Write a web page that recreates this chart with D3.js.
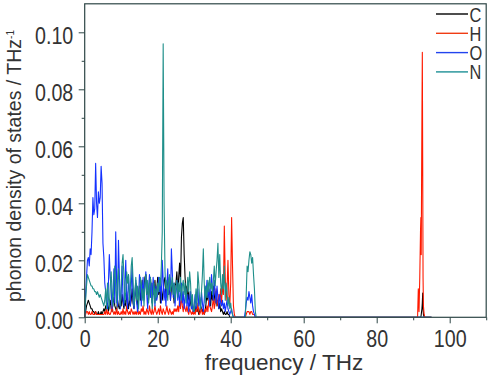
<!DOCTYPE html>
<html><head><meta charset="utf-8">
<script src="https://cdn.jsdelivr.net/npm/d3@7"></script>
<style>body{margin:0;background:#fff}svg{display:block}</style>
</head><body>
<svg id="chart" width="489" height="376"></svg>
<script>
// ---- data ----
const lowStart = 0, lowStep = 0.25; // frequency grid of the low block (THz)
const C_low = [
0.000,0.002,0.004,0.005,0.006,0.005,0.004,0.003,0.003,0.002,0.002,0.001,0.002,0.001,0.001,0.002,0.001,0.001,0.002,0.001,
0.002,0.003,0.002,0.004,0.003,0.005,0.002,0.004,0.006,0.003,0.002,0.005,0.007,0.004,0.003,0.002,0.006,0.004,0.003,0.005,
0.004,0.008,0.005,0.003,0.006,0.004,0.009,0.005,0.003,0.007,0.004,0.006,0.010,0.005,0.003,0.007,0.012,0.006,0.004,0.008,
0.011,0.006,0.009,0.013,0.007,0.010,0.014,0.015,0.008,0.012,0.006,0.011,0.014,0.009,0.005,0.012,0.008,0.013,0.006,0.010,
0.014,0.008,0.012,0.005,0.010,0.006,0.009,0.013,0.014,0.007,0.011,0.014,0.008,0.012,0.006,0.010,0.013,0.009,0.005,0.011,
0.012,0.016,0.009,0.014,0.019,0.012,0.028,0.033,0.035,0.022,0.014,0.008,0.011,0.006,0.009,0.004,0.007,0.003,0.005,0.002,
0.003,0.002,0.004,0.002,0.003,0.001,0.002,0.004,0.003,0.002,0.003,0.001,0.002,0.005,0.008,0.006,0.010,0.007,0.004,0.009,
0.006,0.011,0.008,0.005,0.009,0.004,0.006,0.003,0.005,0.002,0.003,0.002,0.001,0.002,0.001,0.001,0.002,0.001,0.001,0.000,
0.000,0.000,0.000,0.000,0.000,0.000,0.000,0.000,0.000,0.000,0.000,0.000,0.000,0.000,0.000,0.000,0.000,0.000,0.000,0.000,
0.000,0.000,0.000,0.000,0.000,0.000,0.000,0.000,0.000,0.000,0.000];
const H_low = [
0.000,0.001,0.002,0.002,0.001,0.002,0.001,0.001,0.002,0.001,0.001,0.001,0.002,0.001,0.001,0.001,0.001,0.001,0.001,0.001,
0.001,0.001,0.002,0.001,0.003,0.001,0.002,0.001,0.001,0.002,0.004,0.002,0.001,0.002,0.001,0.003,0.001,0.002,0.001,0.001,
0.002,0.001,0.003,0.001,0.002,0.001,0.004,0.002,0.001,0.002,0.001,0.003,0.002,0.001,0.002,0.001,0.002,0.001,0.003,0.001,
0.002,0.001,0.003,0.002,0.004,0.001,0.002,0.001,0.003,0.002,0.001,0.004,0.002,0.001,0.003,0.001,0.002,0.004,0.002,0.001,
0.002,0.003,0.001,0.004,0.002,0.001,0.003,0.002,0.001,0.002,0.004,0.002,0.001,0.003,0.002,0.001,0.002,0.001,0.003,0.002,
0.003,0.002,0.004,0.002,0.006,0.003,0.008,0.004,0.002,0.005,0.003,0.002,0.004,0.002,0.001,0.003,0.002,0.001,0.002,0.001,
0.002,0.001,0.003,0.002,0.005,0.002,0.001,0.002,0.003,0.001,0.002,0.001,0.003,0.002,0.004,0.002,0.006,0.004,0.003,0.002,
0.004,0.007,0.003,0.005,0.010,0.006,0.004,0.008,0.006,0.010,0.005,0.012,0.008,0.032,0.014,0.006,0.010,0.020,0.008,0.004,
0.012,0.035,0.018,0.004,0.001,0.000,0.000,0.000,0.000,0.000,0.000,0.000,0.000,0.000,0.000,0.000,0.000,0.001,0.002,0.002,
0.002,0.001,0.002,0.002,0.001,0.001,0.001,0.000,0.000,0.000,0.000];
const O_low = [
0.000,0.008,0.014,0.020,0.021,0.018,0.024,0.022,0.030,0.042,0.036,0.038,0.054,0.040,0.035,0.044,0.040,0.042,0.053,0.047,
0.026,0.021,0.012,0.009,0.004,0.003,0.012,0.022,0.014,0.010,0.003,0.008,0.017,0.005,0.030,0.012,0.004,0.027,0.015,0.003,
0.008,0.018,0.006,0.004,0.012,0.020,0.007,0.003,0.015,0.009,0.004,0.011,0.018,0.006,0.003,0.008,0.013,0.005,0.002,0.006,
0.015,0.012,0.004,0.009,0.014,0.006,0.011,0.016,0.008,0.003,0.010,0.015,0.007,0.012,0.005,0.014,0.009,0.004,0.011,0.006,
0.008,0.014,0.009,0.012,0.005,0.020,0.013,0.006,0.010,0.004,0.011,0.017,0.008,0.014,0.006,0.024,0.016,0.007,0.012,0.004,
0.009,0.013,0.006,0.011,0.004,0.008,0.012,0.005,0.009,0.003,0.007,0.010,0.004,0.008,0.002,0.006,0.009,0.003,0.005,0.002,
0.004,0.008,0.003,0.006,0.010,0.004,0.007,0.003,0.009,0.005,0.002,0.006,0.011,0.008,0.013,0.007,0.012,0.004,0.009,0.015,
0.010,0.006,0.013,0.009,0.005,0.011,0.007,0.003,0.008,0.005,0.004,0.006,0.003,0.005,0.002,0.004,0.006,0.003,0.002,0.001,
0.002,0.003,0.001,0.000,0.000,0.000,0.000,0.000,0.000,0.000,0.000,0.000,0.000,0.000,0.000,0.000,0.002,0.005,0.007,0.006,
0.009,0.007,0.005,0.008,0.004,0.002,0.001,0.000,0.000,0.000,0.000];
const N_low = [
0.000,0.006,0.011,0.015,0.014,0.013,0.012,0.011,0.011,0.010,0.010,0.009,0.009,0.008,0.009,0.008,0.007,0.008,0.007,0.006,
0.005,0.004,0.006,0.010,0.003,0.012,0.007,0.003,0.011,0.016,0.009,0.004,0.014,0.018,0.010,0.005,0.013,0.017,0.008,0.004,
0.011,0.019,0.022,0.014,0.005,0.009,0.016,0.012,0.015,0.006,0.010,0.018,0.021,0.013,0.004,0.008,0.014,0.006,0.011,0.003,
0.009,0.014,0.012,0.006,0.010,0.004,0.012,0.015,0.008,0.013,0.005,0.011,0.014,0.009,0.003,0.008,0.012,0.005,0.010,0.007,
0.012,0.009,0.014,0.011,0.018,0.030,0.096,0.040,0.016,0.010,0.013,0.006,0.012,0.015,0.009,0.011,0.014,0.008,0.012,0.006,
0.010,0.013,0.007,0.012,0.009,0.014,0.006,0.011,0.013,0.008,0.012,0.005,0.010,0.014,0.009,0.016,0.012,0.004,0.008,0.003,
0.002,0.006,0.010,0.004,0.016,0.012,0.006,0.003,0.009,0.015,0.024,0.012,0.005,0.011,0.007,0.013,0.009,0.014,0.010,0.012,
0.008,0.013,0.018,0.011,0.016,0.020,0.026,0.014,0.022,0.012,0.008,0.015,0.010,0.018,0.006,0.012,0.009,0.004,0.007,0.003,
0.005,0.002,0.001,0.000,0.000,0.000,0.000,0.000,0.000,0.000,0.000,0.000,0.000,0.000,0.000,0.000,0.000,0.008,0.018,0.016,
0.020,0.023,0.022,0.019,0.021,0.015,0.010,0.002,0.000,0.000,0.000];
const highFreq = [91.2,91.4,91.6,91.8,92.0,92.1,92.2,92.3,92.4,92.5,92.6,92.7,92.8,93.0,93.2,95.0];
const C_high = [0,0,0,0,0,0,0.001,0.002,0.003,0.005,0.0085,0.003,0.001,0,0,0];
const H_high = [0,0.010,0.002,0.014,0.030,0.035,0.022,0.048,0.072,0.093,0.055,0.014,0.004,0.001,0,0];
const O_high = [0,0,0,0,0,0,0,0,0,0,0,0,0,0,0,0];
const N_high = [0,0,0,0,0,0,0,0,0,0,0,0,0,0,0,0];

const seriesNames = ["C","H","O","N"];
const seriesColors = ["#000000","#ff1a00","#1432ff","#1e8f8a"];
const legendColors = ["#000000","#f03c14","#2244ee","#1e9096"];
const xMajor = [0,20,40,60,80,100], xMinor = [10,30,50,70,90,110];
const yMajor = [0,0.02,0.04,0.06,0.08,0.10], yMinor = [0.01,0.03,0.05,0.07,0.09];

// ---- build ----
const lowFreq = C_low.map((_, i) => lowStart + i * lowStep);
const freq = lowFreq.concat(highFreq);
const series = [C_low.concat(C_high), H_low.concat(H_high), O_low.concat(O_high), N_low.concat(N_high)];

const svg = d3.select("#chart");
const L = 84.7, R = 486.2, T = 3.8, B = 317.3;
const x = d3.scaleLinear().domain([0,110]).range([L,R]);
const y = d3.scaleLinear().domain([0,0.11]).range([B,T]);
const axisColor = "#2e4646", textColor = "#333";
const font = "'Liberation Sans',Arial,sans-serif";
const SX = 0.82; // condensed look

svg.append("defs").append("clipPath").attr("id","clip")
  .append("rect").attr("x",L).attr("y",T).attr("width",R-L).attr("height",B-T);

const line = d3.line().x((d,i)=>x(freq[i])).y(d=>y(d));
const gData = svg.append("g").attr("clip-path","url(#clip)");
series.forEach((s,k)=>{
  gData.append("path").datum(s).attr("d",line).attr("fill","none")
    .attr("stroke",seriesColors[k]).attr("stroke-width",1.1).attr("stroke-linejoin","round");
});

// axes
function styleAxis(g){
  g.select(".domain").remove();
  g.selectAll(".tick line").attr("stroke",axisColor).attr("stroke-width",1);
  g.selectAll(".tick text").attr("fill",textColor).style("font-family",font).style("font-size","24px");
}
svg.append("g").attr("transform",`translate(0,${B})`)
  .call(d3.axisBottom(x).tickValues(xMajor).tickSize(6).tickPadding(6.4).tickFormat(d3.format("d")))
  .call(styleAxis)
  .selectAll(".tick text").attr("transform",`scale(${SX},1)`);
svg.append("g").attr("transform",`translate(0,${B})`)
  .call(d3.axisBottom(x).tickValues(xMinor).tickSize(3).tickFormat(""))
  .call(styleAxis);
const gy = svg.append("g").attr("transform",`translate(${L},0)`)
  .call(d3.axisLeft(y).tickValues(yMajor).tickSize(6).tickPadding(5.4).tickFormat(d3.format(".2f")))
  .call(styleAxis);
gy.selectAll(".tick text").attr("dy","0.46em").attr("x",-11.4/SX).attr("transform",`scale(${SX},1)`);
svg.append("g").attr("transform",`translate(${L},0)`)
  .call(d3.axisLeft(y).tickValues(yMinor).tickSize(3).tickFormat(""))
  .call(styleAxis);

// frame
svg.append("rect").attr("x",L).attr("y",T).attr("width",R-L).attr("height",B-T)
  .attr("fill","none").attr("stroke",axisColor).attr("stroke-width",1.2);

// labels
svg.append("text").attr("x",284).attr("y",370).attr("text-anchor","middle")
  .attr("fill",textColor).style("font-family",font).style("font-size","22.5px")
  .text("frequency / THz");
const yl = svg.append("text").attr("transform","translate(21,302) rotate(-90)")
  .attr("fill",textColor).style("font-family",font).style("font-size","19.5px");
yl.append("tspan").text("phonon density of states / THz");
yl.append("tspan").attr("dy",-7).style("font-size","10px").text("-1");

// legend
const lg = svg.append("g");
seriesNames.forEach((n,k)=>{
  const yy = 14 + k*19.3;
  lg.append("line").attr("x1",436).attr("x2",468).attr("y1",yy).attr("y2",yy)
    .attr("stroke",legendColors[k]).attr("stroke-width",1.4);
  lg.append("text").attr("transform",`translate(469.5,${yy+7.5}) scale(${SX},1)`).attr("fill",textColor)
    .style("font-family",font).style("font-size","20px").text(n);
});
</script>
</body></html>
